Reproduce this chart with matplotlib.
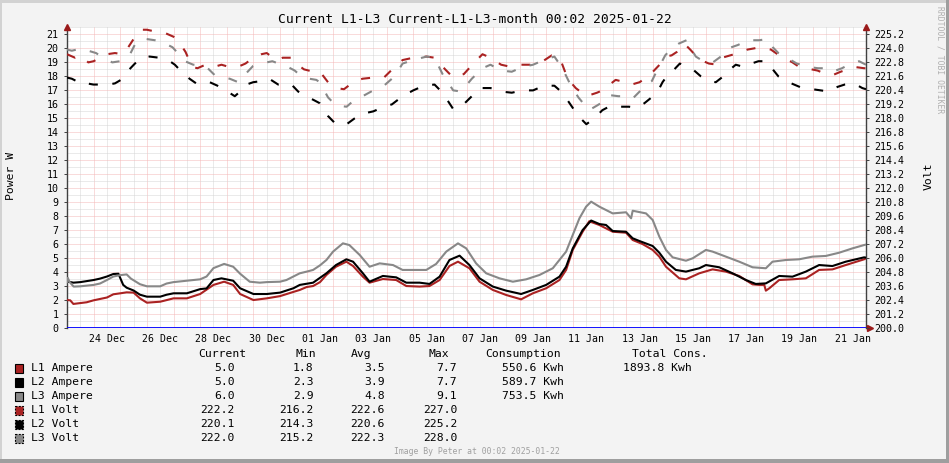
import numpy as np
import matplotlib.pyplot as plt
import matplotlib as mpl
from matplotlib.patches import Rectangle

W, H = 949, 463
mpl.rcParams['font.family'] = ['DejaVu Sans Mono', 'DejaVu Sans']
mpl.rcParams['lines.scale_dashes'] = False

# time axis: days since 23 Dec 00:00 (graph spans one month up to 22 Jan)
x_labels = ['24 Dec', '26 Dec', '28 Dec', '30 Dec', '01 Jan', '03 Jan', '05 Jan', '07 Jan',
            '09 Jan', '11 Jan', '13 Jan', '15 Jan', '17 Jan', '19 Jan', '21 Jan']
x_label_pos = [1.5, 3.5, 5.5, 7.5, 9.5, 11.5, 13.5, 15.5, 17.5, 19.5, 21.5, 23.5, 25.5, 27.5, 29.5]

# ---- Ampere series (day, A) ----
l1_amp_t = [0.0, 0.12, 0.24, 0.74, 1.0, 1.5, 1.74, 2.0, 2.24, 2.5, 2.74, 3.0, 3.5, 4.0, 4.5, 5.0,
            5.5, 5.9, 6.24, 6.5, 7.0, 7.5, 8.0, 8.5, 8.74, 9.0, 9.24, 9.5, 9.74, 10.1, 10.49, 10.74,
            11.11, 11.36, 11.86, 12.36, 12.74, 13.24, 13.61, 13.99, 14.36, 14.68, 15.11, 15.49,
            15.99, 16.49, 17.05, 17.49, 17.99, 18.49, 18.74, 18.99, 19.36, 19.61, 19.99, 20.49,
            20.99, 21.24, 21.61, 21.99, 22.24, 22.49, 22.99, 23.24, 23.74, 24.24, 24.74, 25.24,
            25.74, 25.99, 26.18, 26.24, 26.37, 26.74, 27.24, 27.74, 28.0, 28.24, 28.74, 29.24,
            29.93, 30.0]
l1_amp = [2.02, 2.0, 1.74, 1.86, 2.0, 2.2, 2.43, 2.5, 2.57, 2.55, 2.14, 1.83, 1.9, 2.14, 2.14, 2.45,
          3.1, 3.33, 3.1, 2.45, 2.02, 2.14, 2.3, 2.6, 2.74, 2.95, 3.02, 3.3, 3.81, 4.4, 4.76, 4.45,
          3.69, 3.26, 3.52, 3.45, 3.02, 2.98, 3.02, 3.45, 4.45, 4.76, 4.29, 3.33,
          2.74, 2.38, 2.07, 2.5, 2.86, 3.45, 4.17, 5.6, 6.9, 7.65, 7.38, 6.9,
          6.83, 6.31, 6.02, 5.6, 5.12, 4.4, 3.57, 3.5, 3.93, 4.21, 4.05, 3.74,
          3.14, 3.1, 3.1, 2.69, 2.86, 3.45, 3.5, 3.57, 3.88, 4.17, 4.21, 4.52,
          4.93, 5.0]

l2_amp_t = [0.0, 0.24, 0.5, 1.0, 1.24, 1.5, 1.74, 1.93, 2.11, 2.24, 2.5, 2.74, 3.0, 3.5, 3.74, 4.0,
            4.5, 5.0, 5.24, 5.5, 5.8, 6.24, 6.5, 7.0, 7.5, 8.0, 8.5, 8.74, 9.24, 9.74, 10.1, 10.49,
            10.74, 11.11, 11.36, 11.86, 12.36, 12.74, 13.24, 13.61, 13.99, 14.36, 14.74, 15.11,
            15.49, 15.99, 16.49, 17.05, 17.49, 17.99, 18.49, 18.74, 18.99, 19.36, 19.68, 19.99,
            20.24, 20.49, 20.99, 21.24, 21.49, 21.99, 22.24, 22.49, 22.86, 23.24, 23.74, 23.99,
            24.49, 24.99, 25.49, 25.86, 26.24, 26.74, 27.24, 27.74, 28.24, 28.74, 29.24, 29.93, 30.0]
l2_amp = [3.35, 3.26, 3.3, 3.45, 3.55, 3.7, 3.88, 3.9, 3.1, 2.9, 2.7, 2.4, 2.26, 2.26, 2.4, 2.5,
          2.5, 2.8, 2.85, 3.45, 3.57, 3.4, 2.86, 2.45, 2.45, 2.55, 2.86, 3.1, 3.26, 3.93, 4.52, 4.93,
          4.76, 3.93, 3.33, 3.74, 3.64, 3.26, 3.26, 3.17, 3.69, 4.88, 5.19, 4.52,
          3.57, 2.98, 2.69, 2.45, 2.74, 3.1, 3.69, 4.4, 5.71, 7.02, 7.7, 7.45,
          7.38, 6.95, 6.9, 6.43, 6.24, 5.88, 5.4, 4.76, 4.17, 4.05, 4.29, 4.52,
          4.36, 3.93, 3.45, 3.17, 3.21, 3.74, 3.69, 4.05, 4.52, 4.45, 4.76, 5.07, 5.05]

l3_amp_t = [0.0, 0.03, 0.1, 0.25, 0.5, 1.0, 1.24, 1.5, 1.74, 2.0, 2.24, 2.4, 2.74, 3.0, 3.5, 3.74,
            4.0, 4.5, 5.0, 5.24, 5.5, 5.9, 6.24, 6.5, 6.86, 7.24, 7.5, 8.0, 8.24, 8.5, 8.74, 9.0,
            9.24, 9.5, 9.74, 9.99, 10.36, 10.6, 10.99, 11.36, 11.74, 12.24, 12.6, 12.99, 13.49,
            13.86, 14.24, 14.68, 14.99, 15.36, 15.74, 16.24, 16.74, 17.24, 17.74, 18.24, 18.74,
            18.99, 19.24, 19.49, 19.68, 19.99, 20.49, 20.99, 21.18, 21.24, 21.74, 21.99, 22.24,
            22.49, 22.74, 23.24, 23.49, 23.99, 24.24, 24.74, 25.24, 25.74, 26.24, 26.49, 26.99,
            27.49, 27.99, 28.49, 28.99, 29.49, 29.93, 30.0]
l3_amp = [3.3, 3.6, 3.3, 2.98, 3.0, 3.1, 3.2, 3.45, 3.7, 3.8, 3.85, 3.55, 3.15, 3.0, 3.0, 3.2,
          3.3, 3.4, 3.5, 3.7, 4.3, 4.6, 4.4, 3.9, 3.33, 3.26, 3.3, 3.33, 3.45, 3.7, 3.93, 4.05,
          4.17, 4.5, 4.88, 5.48, 6.07, 5.95, 5.24, 4.4, 4.64, 4.52, 4.17, 4.17, 4.17,
          4.6, 5.48, 6.07, 5.71, 4.64, 3.93, 3.57, 3.33, 3.5, 3.81, 4.29, 5.48,
          6.67, 7.86, 8.69, 9.05, 8.69, 8.21, 8.29, 7.86, 8.4, 8.21, 7.74, 6.55,
          5.6, 5.07, 4.83, 5.0, 5.6, 5.48, 5.12, 4.76, 4.36, 4.29, 4.76, 4.88,
          4.93, 5.12, 5.17, 5.4, 5.71, 5.95, 5.98]

# ---- Volt series (day, V) ----
l1_volt_t = [0.0, 0.3, 0.5, 0.8, 1.0, 1.24, 1.5, 1.8, 2.1, 2.3, 2.5, 2.75, 3.0, 3.4, 3.7, 4.0,
             4.25, 4.45, 4.7, 4.9, 5.2, 5.5, 5.8, 6.1, 6.4, 6.7, 7.0, 7.3, 7.5, 7.85, 8.1, 8.4,
             8.6, 8.9, 9.25, 9.5, 9.8, 10.1, 10.4, 10.8, 11.1, 11.5, 11.9, 12.3, 12.6, 13.0,
             13.5, 13.8, 14.2, 14.5, 14.9, 15.3, 15.6, 15.9, 16.3, 16.7, 17.0, 17.4, 17.8, 18.2,
             18.5, 18.8, 19.1, 19.5, 19.9, 20.1, 20.6, 20.95, 21.2, 21.5, 21.8, 22.0, 22.25,
             22.46, 22.7, 22.9, 23.18, 23.4, 23.6, 23.8, 24.1, 24.43, 24.6, 24.9, 25.2, 25.55,
             25.8, 26.0, 26.43, 26.8, 27.24, 27.5, 27.74, 28.18, 28.5, 28.74, 29.05, 29.3, 29.6,
             29.93, 30.0]
l1_volt = [223.5, 223.2, 223.4, 222.8, 222.9, 223.2, 223.5, 223.6, 223.5, 224.1, 224.8, 225.6,
           225.6, 225.4, 225.3, 225.0, 224.4, 223.7, 222.4, 222.3, 222.6, 222.4, 222.6, 222.4,
           222.4, 222.7, 223.2, 223.5, 223.6, 223.0, 223.2, 223.2, 222.7, 222.2, 222.0, 222.0,
           221.1, 220.6, 220.5, 221.2, 221.4, 221.5, 221.5, 222.4, 223.0, 223.2, 223.3, 223.2,
           222.2, 221.5, 221.8, 222.8, 223.5, 223.2, 222.6, 222.4, 222.6, 222.6, 222.8, 223.4,
           223.2, 221.4, 220.6, 219.9, 220.2, 220.4, 221.3, 221.1, 220.9, 221.1, 221.6, 222.0,
           222.6, 223.3, 223.4, 223.7, 224.4, 223.9, 223.4, 223.0, 222.7, 222.6, 223.2, 223.4,
           223.6, 223.9, 224.0, 224.1, 223.9, 223.3, 222.8, 222.4, 222.3, 222.1, 221.8, 221.7,
           222.0, 222.2, 222.4, 222.3, 222.3]

l2_volt_t = [0.0, 0.18, 0.35, 0.49, 0.75, 0.99, 1.3, 1.55, 1.8, 2.1, 2.3, 2.55, 2.8, 3.1, 3.46,
             3.8, 4.05, 4.3, 4.6, 4.85, 5.1, 5.36, 5.65, 5.96, 6.3, 6.5, 6.74, 6.99, 7.3, 7.59,
             7.93, 8.2, 8.43, 8.68, 8.95, 9.24, 9.49, 9.8, 10.1, 10.5, 10.8, 11.1, 11.5, 11.9,
             12.2, 12.6, 13.0, 13.4, 13.8, 14.1, 14.5, 14.8, 15.2, 15.5, 15.9, 16.3, 16.7, 17.1,
             17.5, 17.9, 18.3, 18.6, 18.9, 19.2, 19.5, 19.8, 20.1, 20.43, 20.8, 21.1, 21.39,
             21.68, 21.95, 22.18, 22.36, 22.55, 22.76, 23.01, 23.3, 23.55, 23.8, 24.1, 24.36,
             24.64, 24.9, 25.11, 25.43, 25.7, 25.96, 26.24, 26.5, 26.71, 26.99, 27.3, 27.61,
             27.99, 28.3, 28.61, 28.93, 29.2, 29.55, 29.86, 30.0]
l2_volt = [221.5, 221.4, 221.2, 221.3, 221.0, 220.9, 220.9, 220.9, 221.0, 221.4, 222.1, 222.7,
           223.2, 223.3, 223.2, 223.0, 222.6, 222.0, 221.4, 221.0, 220.9, 221.1, 220.8, 220.4,
           219.9, 220.3, 220.9, 221.1, 221.2, 221.4, 220.9, 220.9, 220.9, 220.3, 219.9, 219.6,
           219.3, 218.2, 217.5, 217.5, 218.0, 218.4, 218.6, 219.0, 219.2, 219.9, 220.4, 220.8,
           220.9, 220.2, 218.8, 219.0, 219.9, 220.6, 220.6, 220.3, 220.2, 220.4, 220.4, 220.8,
           220.8, 220.2, 219.2, 218.2, 217.5, 218.0, 218.7, 219.1, 219.0, 219.0, 218.9, 219.3,
           219.8, 220.3, 221.1, 221.7, 222.1, 222.7, 222.4, 222.1, 221.6, 221.2, 221.1, 221.6,
           222.2, 222.6, 222.4, 222.7, 222.9, 222.9, 222.2, 221.6, 221.2, 220.9, 220.6, 220.5,
           220.4, 220.3, 220.7, 220.9, 221.0, 220.6, 220.5]

l3_volt_t = [0.0, 0.18, 0.55, 0.8, 1.09, 1.36, 1.7, 1.99, 2.3, 2.61, 2.99, 3.3, 3.61, 3.96, 4.2,
             4.43, 4.74, 5.0, 5.24, 5.55, 5.85, 6.11, 6.43, 6.7, 6.99, 7.21, 7.5, 7.71, 8.05, 8.3,
             8.55, 8.8, 9.1, 9.36, 9.49, 9.8, 10.1, 10.5, 10.8, 11.1, 11.5, 11.9, 12.3, 12.6,
             13.0, 13.5, 13.8, 14.1, 14.5, 14.8, 15.2, 15.6, 15.9, 16.3, 16.7, 17.1, 17.5, 17.9,
             18.3, 18.6, 18.9, 19.2, 19.6, 19.9, 20.11, 20.36, 20.7, 20.99, 21.24, 21.5, 21.71,
             21.96, 22.15, 22.3, 22.46, 22.7, 22.96, 23.26, 23.45, 23.61, 23.96, 24.25, 24.55,
             24.74, 24.95, 25.2, 25.55, 25.8, 25.99, 26.3, 26.5, 26.71, 27.18, 27.4, 27.59,
             27.86, 28.2, 28.49, 28.74, 29.1, 29.43, 29.74, 30.0]
l3_volt = [223.9, 223.8, 224.0, 223.8, 223.6, 223.2, 222.8, 222.9, 223.2, 224.6, 224.8, 224.7,
           224.5, 224.1, 223.5, 222.9, 222.6, 222.6, 222.4, 221.7, 221.5, 221.4, 221.1, 221.8,
           222.5, 222.7, 222.8, 222.9, 222.6, 222.4, 222.1, 221.6, 221.4, 221.3, 221.1, 219.8,
           219.1, 219.0, 219.6, 219.9, 220.4, 220.8, 221.6, 222.7, 223.0, 223.3, 223.2, 221.8,
           220.4, 220.3, 221.4, 222.3, 222.6, 222.1, 222.0, 222.4, 222.6, 223.0, 223.3, 222.3,
           220.9, 219.8, 218.7, 219.1, 219.4, 220.0, 219.9, 219.9, 219.7, 220.3, 220.8, 221.2,
           222.1, 222.7, 223.4, 224.0, 224.4, 224.7, 223.9, 223.3, 222.8, 222.8, 223.3, 223.9,
           224.1, 224.3, 224.7, 224.7, 224.7, 224.8, 224.1, 223.6, 223.0, 222.7, 222.6, 222.4,
           222.3, 222.3, 222.0, 222.3, 222.7, 222.9, 222.6]

# ---- legend table ----
leg_names = ['L1 Ampere', 'L2 Ampere', 'L3 Ampere', 'L1 Volt', 'L2 Volt', 'L3 Volt']
leg_cur = [5.0, 5.0, 6.0, 222.2, 220.1, 222.0]
leg_min = [1.8, 2.3, 2.9, 216.2, 214.3, 215.2]
leg_avg = [3.5, 3.9, 4.8, 222.6, 220.6, 222.3]
leg_max = [7.7, 7.7, 9.1, 227.0, 225.2, 228.0]
leg_cons = [550.6, 589.7, 753.5]
total_cons = 1893.8

c_red, c_blk, c_gry = '#aa2222', '#000000', '#888888'
colors = [c_red, c_blk, c_gry, c_red, c_blk, c_gry]

fig = plt.figure(figsize=(W / 100, H / 100), dpi=100)
fig.patch.set_facecolor('#f3f3f3')

# background layer in pixel coordinates
bg = fig.add_axes([0, 0, 1, 1], zorder=0)
bg.set_xlim(0, W)
bg.set_ylim(H, 0)
bg.axis('off')
bg.add_patch(Rectangle((0, 0), W, 3, color='#d2d2d2', lw=0))
bg.add_patch(Rectangle((0, 0), 2, H, color='#d2d2d2', lw=0))
bg.add_patch(Rectangle((0, H - 4), W, 4, color='#9e9e9e', lw=0))
bg.add_patch(Rectangle((W - 3, 0), 3, H, color='#9e9e9e', lw=0))

# main plot
px0, px1, py0, py1 = 67, 866, 26.7, 328.3
ymax = 21.55
ax = fig.add_axes([px0 / W, (H - py1) / H, (px1 - px0) / W, (py1 - py0) / H], zorder=1)
ax.set_facecolor('white')
ax.set_xlim(0, 30)
ax.set_ylim(0, ymax)

dot = (0, (0.72, 0.72))
for d in np.arange(0.5, 30, 0.5):
    col = '#f5b8b8' if d % 1 == 0 else '#d6d6d6'
    ax.axvline(d, color=col, lw=0.72, ls=dot, zorder=0)
for v in np.arange(0.5, ymax, 0.5):
    col = '#f5b8b8' if v % 1 == 0 else '#d6d6d6'
    ax.axhline(v, color=col, lw=0.72, ls=dot, zorder=0)

ax.plot(l1_amp_t, l1_amp, color=c_red, lw=1.5, zorder=3)
ax.plot(l2_amp_t, l2_amp, color=c_blk, lw=1.5, zorder=3)
ax.plot(l3_amp_t, l3_amp, color=c_gry, lw=1.5, zorder=3)
ax.axhline(0, color='#0000ff', lw=1.3, zorder=4)

ax.set_yticks(range(0, 22))
ax.set_xticks(x_label_pos)
ax.set_xticklabels(x_labels)
ax.tick_params(axis='x', length=0, pad=4, labelsize=7.1)
ax.tick_params(axis='y', length=2, width=0.7, color='#404040', pad=4, labelsize=7.2)
for s in ['top', 'bottom']:
    ax.spines[s].set_visible(False)
for s in ['left', 'right']:
    ax.spines[s].set_color('#404040')
    ax.spines[s].set_linewidth(1.0)

ax2 = ax.twinx()
ax2.set_ylim(200, 200 + 1.2 * ymax)
ax2.patch.set_visible(False)
for s in ax2.spines.values():
    s.set_visible(False)
dash = (0, (6.5, 10.5))
ax2.plot(l1_volt_t, l1_volt, color=c_red, lw=1.5, ls=dash, zorder=3)
ax2.plot(l2_volt_t, l2_volt, color=c_blk, lw=1.5, ls=dash, zorder=3)
ax2.plot(l3_volt_t, l3_volt, color=c_gry, lw=1.5, ls=dash, zorder=3)
vt = [200 + 1.2 * k for k in range(22)]
ax2.set_yticks(vt)
ax2.set_yticklabels(['%.1f' % t for t in vt])
ax2.tick_params(axis='y', length=2, width=0.7, color='#404040', pad=4, labelsize=7.2)

# axis arrows
arrow_c = '#9a1a1a'
ax.plot([0], [ymax], marker='^', ms=5, color=arrow_c, clip_on=False, zorder=6)
ax.plot([30], [ymax], marker='^', ms=5, color=arrow_c, clip_on=False, zorder=6)
ax.plot([30.15], [0], marker='>', ms=5, color=arrow_c, clip_on=False, zorder=6)

# texts
bg.text(474.5, 19.5, 'Current L1-L3 Current-L1-L3-month 00:02 2025-01-22',
        ha='center', va='center', fontsize=9.4)
bg.text(11, 176, 'Power W', rotation=90, ha='center', va='center', fontsize=8.2)
bg.text(929, 176, 'Volt', rotation=90, ha='center', va='center', fontsize=8.2)
bg.text(940, 60, 'RRDTOOL / TOBI OETIKER', rotation=-90, ha='center', va='center',
        fontsize=5.8, color='#b0b0b0')
bg.text(477, 452, 'Image By Peter at 00:02 2025-01-22', ha='center', va='center',
        fontsize=5.9, color='#a0a0a0')

fs = 8.2
hy = 354
bg.text(198.3, hy, 'Current', ha='left', va='center', fontsize=fs)
bg.text(295.7, hy, 'Min', ha='left', va='center', fontsize=fs)
bg.text(351, hy, 'Avg', ha='left', va='center', fontsize=fs)
bg.text(429, hy, 'Max', ha='left', va='center', fontsize=fs)
bg.text(485.7, hy, 'Consumption', ha='left', va='center', fontsize=fs)
bg.text(631.7, hy, 'Total Cons.', ha='left', va='center', fontsize=fs)

for i, name in enumerate(leg_names):
    y = 368 + 14 * i
    ls = '-' if i < 3 else (0, (1.4, 1.0))
    bg.add_patch(Rectangle((15.3, y - 4), 7.5, 8.5, facecolor=colors[i], edgecolor='black',
                           lw=0.8, ls=ls))
    bg.text(30.7, y, name, ha='left', va='center', fontsize=fs)
    bg.text(234.5, y, '%.1f' % leg_cur[i], ha='right', va='center', fontsize=fs)
    bg.text(313.5, y, '%.1f' % leg_min[i], ha='right', va='center', fontsize=fs)
    bg.text(385, y, '%.1f' % leg_avg[i], ha='right', va='center', fontsize=fs)
    bg.text(457.3, y, '%.1f' % leg_max[i], ha='right', va='center', fontsize=fs)
    if i < 3:
        bg.text(564, y, '%.1f Kwh' % leg_cons[i], ha='right', va='center', fontsize=fs)
bg.text(623, 368, '%.1f Kwh' % total_cons, ha='left', va='center', fontsize=fs)

fig.savefig('out.png', dpi=100, facecolor=fig.get_facecolor())
